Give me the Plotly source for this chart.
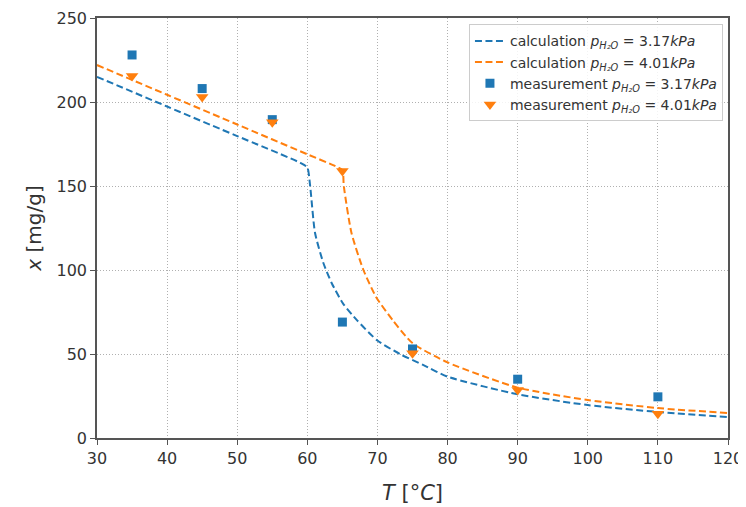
import plotly.graph_objects as go

# calculation curves
calc_T_317 = [30, 40, 50, 59, 60, 60.4, 61.1, 62.3, 63.5, 65.1, 67.1, 70, 73.2, 76.5, 80, 90, 100, 110, 120]
calc_x_317 = [215, 197.3, 179.7, 163.8, 161, 150, 122, 104, 92, 80, 70, 58, 50, 43.5, 36.5, 26, 19.6, 15.5, 12.5]
calc_T_401 = [30, 40, 50, 60, 64, 65, 65.2, 66.3, 68, 69.8, 72.2, 75, 80, 90, 100, 110, 120]
calc_x_401 = [222, 204.3, 186.6, 168.9, 161.8, 159.5, 150, 122, 100, 84, 70, 56.5, 45, 30, 22.6, 17.8, 14.9]

# measurements
meas_T = [35, 45, 55, 65, 75, 90, 110]
meas_x_317 = [228, 208, 189.5, 69, 53, 35, 24.5]
meas_x_401 = [215.5, 203, 188, 159, 50.5, 28.5, 14.5]

x_ticks = [30, 40, 50, 60, 70, 80, 90, 100, 110, 120]
y_ticks = [0, 50, 100, 150, 200, 250]

blue = "#1f77b4"
orange = "#ff7f0e"
sub = "<i>p</i><sub><i>H₂O</i></sub>"

fig = go.Figure()
fig.add_trace(go.Scatter(x=calc_T_317, y=calc_x_317, mode="lines",
                         line=dict(color=blue, width=2, dash="7px,3.5px", shape="spline", smoothing=0.6),
                         name=f"calculation {sub} = 3.17<i>kPa</i>"))
fig.add_trace(go.Scatter(x=calc_T_401, y=calc_x_401, mode="lines",
                         line=dict(color=orange, width=2, dash="7px,3.5px", shape="spline", smoothing=0.6),
                         name=f"calculation {sub} = 4.01<i>kPa</i>"))
fig.add_trace(go.Scatter(x=meas_T, y=meas_x_317, mode="markers",
                         marker=dict(color=blue, symbol="square", size=9),
                         name=f"measurement {sub} = 3.17<i>kPa</i>"))
fig.add_trace(go.Scatter(x=meas_T, y=meas_x_401, mode="markers",
                         marker=dict(color=orange, symbol="triangle-down", size=11),
                         name=f"measurement {sub} = 4.01<i>kPa</i>"))

axis_common = dict(showline=True, linecolor="#555", linewidth=1.5, mirror=True,
                   ticks="outside", ticklen=5, tickcolor="#555",
                   showgrid=True, gridcolor="#b0b0b0", griddash="1px,2px", gridwidth=1,
                   zeroline=False, tickfont=dict(size=16, color="#333", family="DejaVu Sans"))

fig.update_layout(
    width=738, height=499,
    margin=dict(l=89, r=18, t=10, b=69, autoexpand=False),
    paper_bgcolor="white", plot_bgcolor="white",
    font=dict(family="DejaVu Sans", color="#333"),
    xaxis=dict(range=[30, 120], tickvals=x_ticks,
               title=dict(text="<i>T</i> [°<i>C</i>]", font=dict(size=21), standoff=18), **axis_common),
    yaxis=dict(range=[0, 250], tickvals=y_ticks,
               title=dict(text="<i>x</i> [mg/g]", font=dict(size=20), standoff=10), **axis_common),
    legend=dict(x=0.992, y=0.985, xanchor="right", yanchor="top",
                bgcolor="rgba(255,255,255,0.85)", bordercolor="#ccc", borderwidth=1,
                font=dict(size=14, color="#333"), tracegroupgap=0, itemwidth=30),
    showlegend=True,
)

fig.write_html("out.html")
